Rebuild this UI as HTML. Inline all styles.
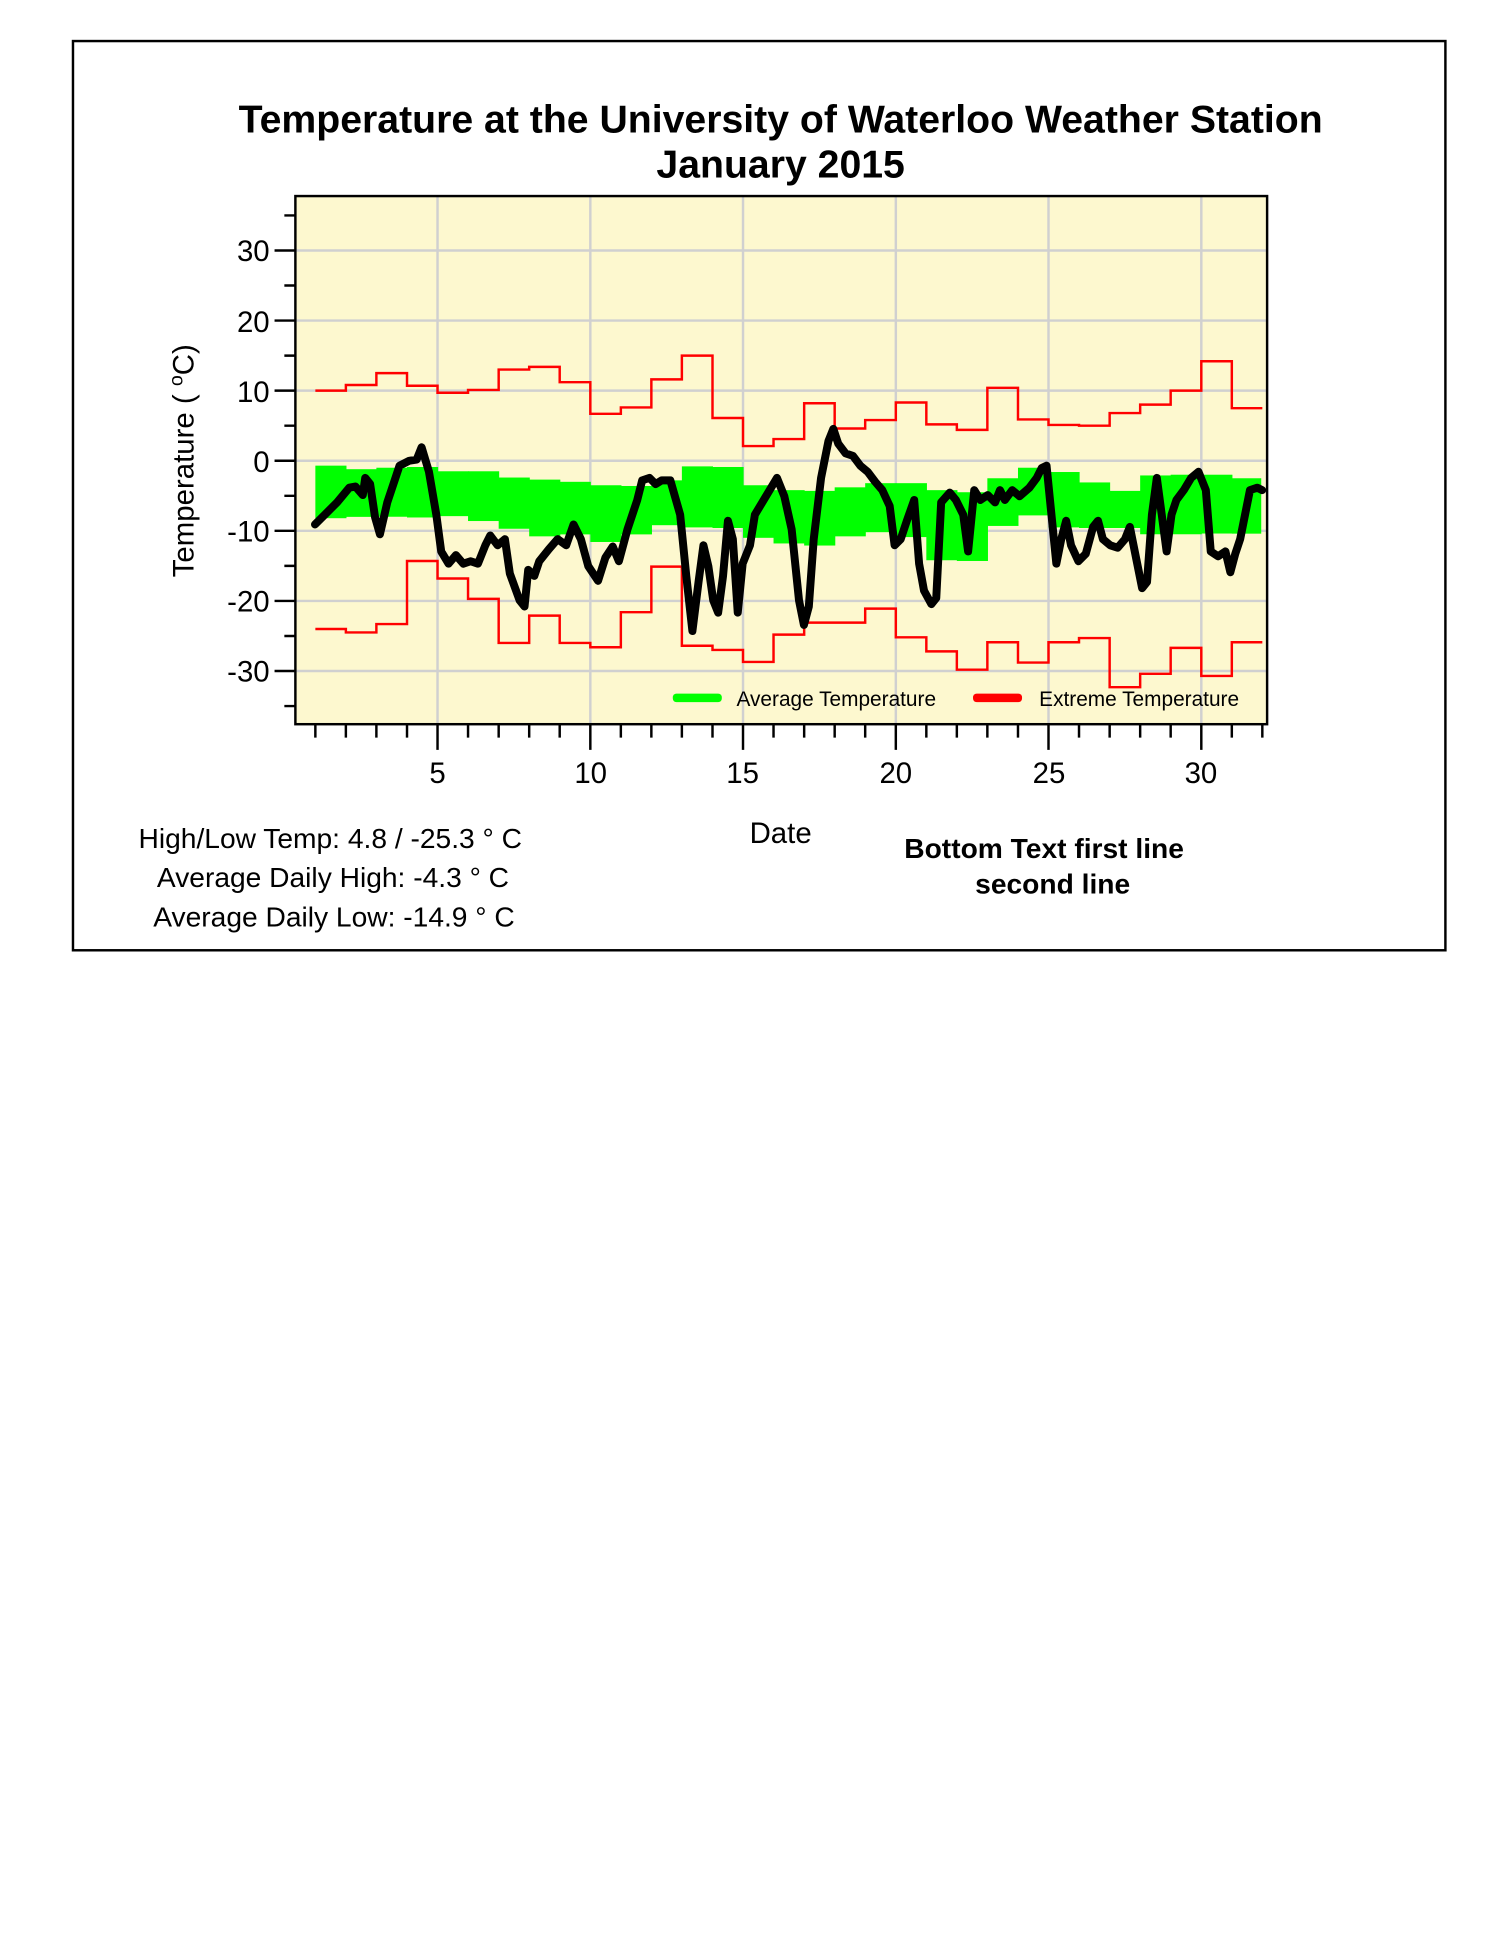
<!DOCTYPE html>
<html><head><meta charset="utf-8"><style>html,body{margin:0;padding:0;background:#fff}svg{display:block}</style></head><body>
<svg width="1500" height="1941" viewBox="0 0 1224 1584" xmlns="http://www.w3.org/2000/svg" font-family="Liberation Sans, Arial, sans-serif">
<rect x="0" y="0" width="1224" height="1584" fill="#fff"/>
<rect x="59.5" y="33.5" width="1120" height="742" fill="none" stroke="#000" stroke-width="2"/>
<text x="637" y="108" text-anchor="middle" font-size="32" font-weight="bold">Temperature at the University of Waterloo Weather Station</text>
<text x="637" y="145" text-anchor="middle" font-size="32" font-weight="bold">January 2015</text>
<rect x="241" y="160" width="793" height="431" fill="#fdf8cf"/>
<g stroke="#d0d0d0" stroke-width="2">
<line x1="241" y1="204.4" x2="1034" y2="204.4"/><line x1="241" y1="261.6" x2="1034" y2="261.6"/><line x1="241" y1="318.8" x2="1034" y2="318.8"/><line x1="241" y1="376" x2="1034" y2="376"/><line x1="241" y1="433.2" x2="1034" y2="433.2"/><line x1="241" y1="490.4" x2="1034" y2="490.4"/><line x1="241" y1="547.6" x2="1034" y2="547.6"/>
<line x1="357" y1="160" x2="357" y2="591"/><line x1="481.7" y1="160" x2="481.7" y2="591"/><line x1="606.3" y1="160" x2="606.3" y2="591"/><line x1="731" y1="160" x2="731" y2="591"/><line x1="855.6" y1="160" x2="855.6" y2="591"/><line x1="980.3" y1="160" x2="980.3" y2="591"/>
</g>
<g fill="#00ff00">
<rect x="257.3" width="25.4" y="380" height="42.9"/>
<rect x="282.2" width="25.4" y="382.9" height="38.9"/>
<rect x="307.1" width="25.4" y="381.7" height="40"/>
<rect x="332.1" width="25.4" y="381.1" height="41.2"/>
<rect x="357" width="25.4" y="384.6" height="36.6"/>
<rect x="381.9" width="25.4" y="384.6" height="40.6"/>
<rect x="406.9" width="25.4" y="389.7" height="41.8"/>
<rect x="431.8" width="25.4" y="391.4" height="46.3"/>
<rect x="456.7" width="25.4" y="393.2" height="42.9"/>
<rect x="481.7" width="25.4" y="396" height="46.3"/>
<rect x="506.6" width="25.4" y="396.6" height="39.5"/>
<rect x="531.5" width="25.4" y="392" height="36.6"/>
<rect x="556.4" width="25.4" y="380.6" height="49.8"/>
<rect x="581.4" width="25.4" y="381.1" height="49.8"/>
<rect x="606.3" width="25.4" y="396" height="42.9"/>
<rect x="631.2" width="25.4" y="400" height="43.5"/>
<rect x="656.2" width="25.4" y="400.6" height="44.6"/>
<rect x="681.1" width="25.4" y="397.7" height="40"/>
<rect x="706" width="25.4" y="394.3" height="40"/>
<rect x="731" width="25.4" y="394.3" height="44"/>
<rect x="755.9" width="25.4" y="400" height="57.2"/>
<rect x="780.8" width="25.4" y="401.7" height="56.1"/>
<rect x="805.7" width="25.4" y="390.3" height="38.9"/>
<rect x="830.7" width="25.4" y="381.7" height="38.9"/>
<rect x="855.6" width="25.4" y="385.2" height="45.2"/>
<rect x="880.5" width="25.4" y="393.7" height="37.2"/>
<rect x="905.5" width="25.4" y="400.6" height="30.3"/>
<rect x="930.4" width="25.4" y="388" height="48"/>
<rect x="955.3" width="25.4" y="387.4" height="48.6"/>
<rect x="980.3" width="25.4" y="387.4" height="48"/>
<rect x="1005.2" width="24" y="390.3" height="45.2"/>
</g>
<g fill="none" stroke="#ff0000" stroke-width="2">
<path d="M257.3,318.8 H282.2 V314.2 H307.1 V304.5 H332.1 V314.8 H357 V320.5 H381.9 V318.2 H406.9 V301.6 H431.8 V299.4 H456.7 V311.9 H481.7 V337.7 H506.6 V332.5 H531.5 V309.6 H556.4 V290.2 H581.4 V341.1 H606.3 V364 H631.2 V358.3 H656.2 V329.1 H681.1 V349.7 H706 V342.8 H731 V328.5 H755.9 V346.3 H780.8 V350.8 H805.7 V316.5 H830.7 V342.3 H855.6 V346.8 H880.5 V347.4 H905.5 V337.1 H930.4 V330.2 H955.3 V318.8 H980.3 V294.8 H1005.2 V333.1 H1030.1"/>
<path d="M257.3,513.3 H282.2 V516.1 H307.1 V509.3 H332.1 V457.8 H357 V472.1 H381.9 V488.7 H406.9 V524.7 H431.8 V502.4 H456.7 V524.7 H481.7 V528.2 H506.6 V499.6 H531.5 V462.4 H556.4 V527 H581.4 V530.4 H606.3 V540.2 H631.2 V517.9 H656.2 V508.1 H706 V496.7 H731 V520.1 H755.9 V531.6 H780.8 V546.5 H805.7 V524.1 H830.7 V540.7 H855.6 V524.1 H880.5 V520.7 H905.5 V560.8 H930.4 V549.9 H955.3 V528.7 H980.3 V551.6 H1005.2 V524.1 H1030.1"/>
</g>
<polyline fill="none" stroke="#000" stroke-width="6.5" stroke-linejoin="round" stroke-linecap="round" points="257,428 265,420 275,410 285,398 290,397 296,404 298,390 302,395 306,422 310,436 316,410 322,392 326,380 334,376 340,375 344,365 350,385 356,420 360,450 366,460 372,453 378,460 384,458 390,460 396,445 400,437 406,445 412,440 416,468 424,490 428,495 431,465 436,470 440,458 448,448 455,440 462,445 468,428 474,440 480,462 488,474 494,455 500,446 505,458 512,432 520,408 524,392 530,390 535,395 540,392 547,392 555,420 560,470 565,515 570,475 574,445 578,462 582,490 586,500 590,470 594,425 598,440 602,500 606,460 612,445 616,420 622,410 628,400 634,390 640,405 646,432 652,490 656,510 660,495 664,440 670,390 676,360 680,350 684,362 690,370 696,372 702,380 708,385 714,393 720,400 726,413 730,445 735,440 740,425 746,408 750,460 754,482 760,493 764,488 768,410 775,402 780,408 786,420 790,450 795,400 800,408 806,404 812,410 816,400 820,408 826,400 832,405 840,398 846,390 850,382 854,380 858,420 862,460 866,440 870,425 874,445 880,458 886,452 892,430 896,425 900,440 906,445 912,447 918,440 922,430 928,460 932,480 936,475 940,420 944,390 948,420 952,450 956,420 960,408 966,400 972,390 978,385 984,400 988,450 994,454 1000,450 1004,467 1008,452 1012,440 1016,420 1020,400 1026,398 1030,400"/>
<rect x="549" y="566" width="40" height="7" rx="3" fill="#00ff00"/>
<text x="601" y="576" font-size="17">Average Temperature</text>
<rect x="794" y="566" width="40" height="7" rx="3" fill="#ff0000"/>
<text x="848" y="576" font-size="17">Extreme Temperature</text>
<rect x="241" y="160" width="793" height="431" fill="none" stroke="#000" stroke-width="2"/>
<path stroke="#000" stroke-width="2" fill="none" d="M232,175.8H241 M224,204.4H241 M232,233H241 M224,261.6H241 M232,290.2H241 M224,318.8H241 M232,347.4H241 M224,376H241 M232,404.6H241 M224,433.2H241 M232,461.8H241 M224,490.4H241 M232,519H241 M224,547.6H241 M232,576.2H241
M257.3,591V602 M282.2,591V602 M307.1,591V602 M332.1,591V602 M357,591V612 M381.9,591V602 M406.9,591V602 M431.8,591V602 M456.7,591V602 M481.7,591V612 M506.6,591V602 M531.5,591V602 M556.4,591V602 M581.4,591V602 M606.3,591V612 M631.2,591V602 M656.2,591V602 M681.1,591V602 M706,591V602 M731,591V612 M755.9,591V602 M780.8,591V602 M805.7,591V602 M830.7,591V602 M855.6,591V612 M880.5,591V602 M905.5,591V602 M930.4,591V602 M955.3,591V602 M980.3,591V612 M1005.2,591V602 M1030.1,591V602"/>
<g font-size="24" text-anchor="end">
<text x="220" y="213">30</text><text x="220" y="271">20</text><text x="220" y="328">10</text><text x="220" y="385">0</text><text x="220" y="442">-10</text><text x="220" y="499">-20</text><text x="220" y="556">-30</text>
</g>
<g font-size="24" text-anchor="middle">
<text x="357" y="639">5</text><text x="482" y="639">10</text><text x="606" y="639">15</text><text x="731" y="639">20</text><text x="856" y="639">25</text><text x="980" y="639">30</text>
<text x="637" y="688">Date</text>
</g>
<text transform="translate(158,376) rotate(-90)" text-anchor="middle" font-size="24">Temperature ( <tspan font-size="16" dy="-9">o</tspan><tspan dy="9">C)</tspan></text>
<g font-size="23" xml:space="preserve" style="white-space:pre">
<text x="113" y="692">High/Low Temp:  4.8 / -25.3 ° C</text>
<text x="128" y="724">Average Daily High:  -4.3 ° C</text>
<text x="125" y="756">Average Daily Low:  -14.9 ° C</text>
</g>
<g font-size="23" font-weight="bold" text-anchor="middle">
<text x="852" y="700">Bottom Text first line</text>
<text x="859" y="729">second line</text>
</g>
</svg>
</body></html>
